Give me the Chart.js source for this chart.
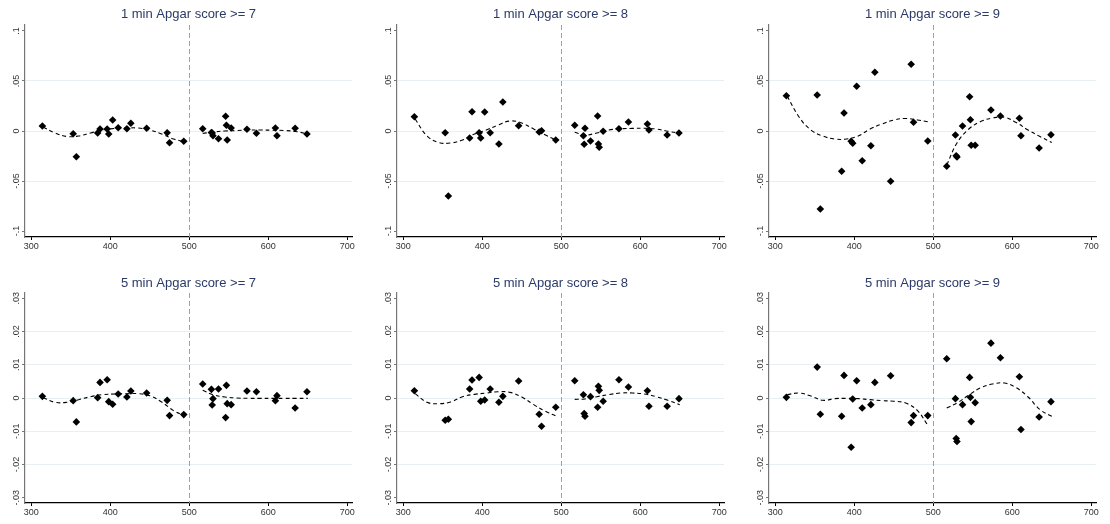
<!DOCTYPE html>
<html>
<head>
<meta charset="utf-8">
<script src="https://cdn.jsdelivr.net/npm/chart.js@4.4.1/dist/chart.umd.min.js"></script>
<style>
body { margin: 0; background: #fff; }
.p { position: absolute; width: 370px; height: 262px; }
</style>
</head>
<body>
<div class="p" style="left:0;top:0"><canvas id="c0"></canvas></div>
<div class="p" style="left:370px;top:0"><canvas id="c1"></canvas></div>
<div class="p" style="left:740px;top:0"><canvas id="c2"></canvas></div>
<div class="p" style="left:0;top:262px"><canvas id="c3"></canvas></div>
<div class="p" style="left:370px;top:262px"><canvas id="c4"></canvas></div>
<div class="p" style="left:740px;top:262px"><canvas id="c5"></canvas></div>
<script>
// running variable (same for every panel)
var xs = [314, 353, 357, 384, 387, 396, 398, 403, 410, 421, 426, 446, 472, 475, 493,
          517, 528, 529, 530, 537, 546, 547, 548, 553, 573, 585, 609, 611, 634, 649];
var cutoff = 500;
var xTicks = [300, 400, 500, 600, 700];

// binned estimates
var s1m7 = [.005, -.0027, -.0257, -.002, .002, .002, -.003, .011, .0033, .0023, .0077, .0027, -.0017, -.0117, -.0103,
            .0023, -.0015, -.002, -.0047, -.0077, .0147, .0057, -.009, .003, .0017, -.0023, .003, -.0047, .0027, -.003];
var s1m8 = [.0143, -.0017, -.065, -.007, .0193, -.0017, -.007, .019, -.0017, -.013, .029, .0053, -.001, .0003, -.009,
            .0057, -.0047, -.0133, .0027, -.01, .015, -.013, -.0163, -.0003, .0023, .009, .007, .001, -.004, -.002];
var s1m9 = [.0353, .036, -.078, -.0403, .018, -.0103, -.0123, .0447, -.0297, -.0147, .0587, -.0503, .0667, .0087, -.01,
            -.0353, -.004, -.0247, -.026, .005, .0343, .0113, -.0143, -.0143, .021, .015, .0127, -.0047, -.017, -.0037];
var s5m7 = [.0005, -.0008, -.0072, .0001, .0047, .0055, -.0011, -.0019, .0012, .0003, .0021, .0015, -.0007, -.0053, -.005,
            .0042, .0026, -.0021, -.0002, .0027, -.0059, .0038, -.0017, -.002, .0021, .0019, -.0008, .0007, -.003, .0019];
var s5m8 = [.0022, -.0067, -.0064, .0027, .0054, .0062, -.001, -.0006, .0027, -.0013, .0005, .0051, -.0049, -.0085, -.0028,
            .0052, .001, -.0047, -.0055, .0004, -.0028, .0035, .0023, -.001, .0055, .0033, .0022, -.0025, -.0025, -.0002];
var s5m9 = [.0002, .0093, -.0049, -.0055, .0068, -.0148, -.0003, .0052, -.003, -.002, .0047, .0067, -.0074, -.0053, -.0053,
            .0118, -.0002, -.0122, -.0131, -.002, .0062, .0002, -.0071, -.0014, .0165, .0121, .0064, -.0095, -.0057, -.0011];

// smoothed fits
var fitXLeft = [315, 330, 345, 360, 375, 390, 405, 420, 435, 450, 465, 480, 493];
var fitXRight = [517, 530, 545, 560, 575, 590, 605, 620, 635, 650];
var f1m7L = [.004, -.002, -.0055, -.005, -.002, .001, .0025, .003, .003, .001, -.003, -.008, -.0105];
var f1m7R = [-.0025, -.001, 0, .0005, .001, .001, .0008, .0005, -.0005, -.003];
var f1m8L = [.012, -.005, -.0115, -.012, -.009, -.003, .001, .006, .01, .008, .002, -.004, -.009];
var f1m8R = [-.0013, -.004, -.002, .001, .0022, .0026, .0027, .002, -.0003, -.0023];
var f1m9L = [.035, .014, .001, -.005, -.008, -.008, -.005, .002, .007, .011, .0125, .011, .0093];
var f1m9R = [-.034, -.012, .002, .0095, .013, .0138, .0085, .001, -.0055, -.0115];
var f5m7L = [.0001, -.0013, -.0013, -.0005, .0004, .001, .0012, .0013, .0013, .0007, -.0012, -.0038, -.0052];
var f5m7R = [.0023, .001, .0003, 0, -.0001, -.0001, -.0001, -.0001, -.0001, -.0001];
var f5m8L = [.0013, -.0013, -.0017, -.0012, .0004, .0011, .0015, .0019, .0017, .0003, -.002, -.004, -.0054];
var f5m8R = [-.0004, -.0003, .0004, .001, .0015, .0015, .0012, .0004, -.0007, -.002];
var f5m9L = [.001, .0015, .0006, -.0007, -.0002, -.0001, -.0002, -.0005, -.0008, -.001, -.0015, -.0038, -.0082];
var f5m9R = [-.003, -.0015, .0009, .0031, .0042, .0045, .0031, .0003, -.0035, -.0055];

var titles = ['1 min Apgar score >= 7', '1 min Apgar score >= 8', '1 min Apgar score >= 9',
              '5 min Apgar score >= 7', '5 min Apgar score >= 8', '5 min Apgar score >= 9'];
var yTicksTop = [-.1, -.05, 0, .05, .1];
var yLabelsTop = ['-.1', '-.05', '0', '.05', '.1'];
var yTicksBottom = [-.03, -.02, -.01, 0, .01, .02, .03];
var yLabelsBottom = ['-.03', '-.02', '-.01', '0', '.01', '.02', '.03'];

var points = [s1m7, s1m8, s1m9, s5m7, s5m8, s5m9];
var fitsL = [f1m7L, f1m8L, f1m9L, f5m7L, f5m8L, f5m9L];
var fitsR = [f1m7R, f1m8R, f1m9R, f5m7R, f5m8R, f5m9R];

function pairs(x, y) {
	return x.map(function (v, i) { return { x: v, y: y[i] }; });
}

// cutoff line + rotated y labels (stata style)
var extras = {
	id: 'extras',
	beforeDatasetsDraw: function (chart) {
		var c = chart.ctx, a = chart.chartArea;
		var px = chart.scales.x.getPixelForValue(cutoff);
		c.save();
		c.strokeStyle = '#a0a0a0';
		c.lineWidth = 1;
		c.setLineDash([5, 3]);
		c.beginPath();
		c.moveTo(Math.round(px) + 0.5, a.top);
		c.lineTo(Math.round(px) + 0.5, a.bottom);
		c.stroke();
		c.restore();
	},
	afterDraw: function (chart) {
		var c = chart.ctx, a = chart.chartArea, ys = chart.scales.y;
		var o = chart.options.plugins.extras;
		c.save();
		c.fillStyle = '#333';
		c.font = '9px "Liberation Sans", Arial, sans-serif';
		c.textAlign = 'center';
		c.textBaseline = 'bottom';
		o.values.forEach(function (v, i) {
			var py = ys.getPixelForValue(v);
			c.save();
			c.translate(a.left - 4, py);
			c.rotate(-Math.PI / 2);
			c.fillText(o.labels[i], 0, 0);
			c.restore();
		});
		c.restore();
	}
};

function makePanel(k) {
	var isTop = k < 3;
	var col = k % 3;
	var axisX = [25, 27, 29][col];
	var lim = isTop ? .106 : .0316;
	var yv = isTop ? yTicksTop : yTicksBottom;
	var yl = isTop ? yLabelsTop : yLabelsBottom;
	var edge = isTop ? .1 : .03;

	new Chart(document.getElementById('c' + k), {
		type: 'scatter',
		data: {
			datasets: [{
				data: pairs(xs, points[k]),
				pointStyle: 'rectRot',
				pointRadius: 3.8,
				backgroundColor: '#000',
				borderWidth: 0,
				order: 0
			}, {
				type: 'line',
				data: pairs(fitXLeft, fitsL[k]),
				borderColor: '#000',
				borderWidth: 1.1,
				borderDash: [4, 3],
				pointRadius: 0,
				tension: 0.4,
				fill: false,
				order: 1
			}, {
				type: 'line',
				data: pairs(fitXRight, fitsR[k]),
				borderColor: '#000',
				borderWidth: 1.1,
				borderDash: [4, 3],
				pointRadius: 0,
				tension: 0.4,
				fill: false,
				order: 1
			}]
		},
		options: {
			responsive: true,
			maintainAspectRatio: false,
			animation: false,
			layout: { padding: { left: axisX - 14, right: 370 - axisX - 327, top: 0, bottom: 0 } },
			plugins: {
				legend: { display: false },
				tooltip: { enabled: false },
				title: {
					display: true,
					text: titles[k],
					color: '#2b3a67',
					fullSize: false,
					font: { size: 13, family: '"Liberation Sans", Arial, sans-serif', weight: 'normal' },
					padding: { top: isTop ? 7 : 14, bottom: isTop ? 2.4 : 1.4 }
				},
				extras: { values: yv, labels: yl }
			},
			scales: {
				x: {
					type: 'linear',
					min: 292,
					max: 706,
					afterBuildTicks: function (s) { s.ticks = xTicks.map(function (v) { return { value: v }; }); },
					afterFit: function (s) { s.height = isTop ? 25 : 21; },
					grid: { drawOnChartArea: false, tickLength: 3, tickColor: '#000' },
					border: { color: '#000', width: 1.2 },
					ticks: { color: '#333', padding: 1, maxRotation: 0, font: { size: 9, family: '"Liberation Sans", Arial, sans-serif' } }
				},
				y: {
					min: -lim,
					max: lim,
					afterBuildTicks: function (s) { s.ticks = yv.map(function (v) { return { value: v }; }); },
					afterFit: function (s) { s.width = 14; },
					grid: {
						color: function (ctx) { return ctx.tick && Math.abs(ctx.tick.value) < edge - 1e-9 ? '#e6eff1' : 'rgba(0,0,0,0)'; },
						tickColor: '#777',
						tickLength: 3
					},
					border: { color: '#777', width: 1.2 },
					ticks: { display: false }
				}
			}
		},
		plugins: [extras]
	});
}

for (var k = 0; k < 6; k++) makePanel(k);
</script>
</body>
</html>
